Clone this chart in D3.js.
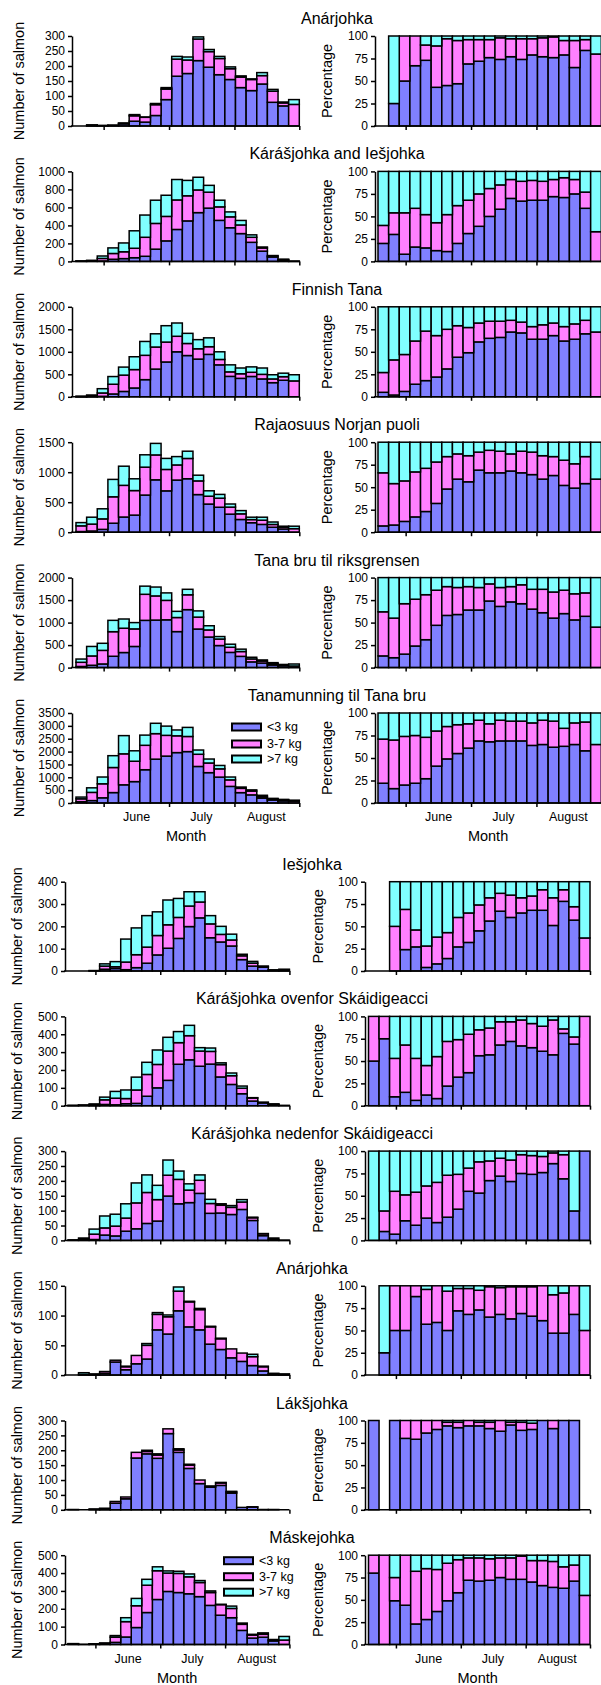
<!DOCTYPE html>
<html><head><meta charset="utf-8">
<script src="https://cdn.jsdelivr.net/npm/d3@7"></script>
<style>
body{margin:0;background:#fff}
svg{display:block}
text{font-family:"Liberation Sans",Arial,sans-serif;fill:#000}
</style>
</head><body><div id="chart"></div>
<script>
// ---------- categories / tick labels ----------
const slots = d3.range(21);                 // 5-day periods, mid-May .. end of August
const monthTickPos = [2.6, 8.75, 14.9, 21]; // month boundaries (in period units)
const monthNames = ["June", "July", "August"];
const monthLabelPos = [5.7, 11.8, 17.9];
const seriesNames = ["<3 kg", "3-7 kg", ">7 kg"];
const seriesColors = ["#8080ff", "#ff80ff", "#80ffff"];

// ---------- 1 Anárjohka ----------
const anar1Small = [0,1,1,2,7,16,13,35,88,166,175,218,196,171,155,128,118,140,79,67,0];
const anar1Mid   = [0,0,1,1,2,18,16,36,35,57,45,72,52,54,36,35,37,28,37,10,72];
const anar1Large = [0,3,0,0,1,4,1,4,5,9,10,7,7,7,6,4,2,10,6,3,16];
const anar1PSmall = [null,25,50,67,73,43,45,47,69,72,76,74,77,74,79,77,76,79,65,84,0];
const anar1PMid   = [null,0,50,33,17,46,52,48,27,24,20,24,20,23,18,21,23,16,30,12,80];
const anar1PLarge = [null,75,0,0,10,11,3,5,4,4,4,2,3,3,3,2,1,5,5,4,20];
// ---------- 2 Kárášjohka and Iešjohka ----------
const karIesSmall = [1,4,5,24,31,41,57,136,228,355,450,542,592,456,374,309,212,114,49,15,0];
const karIesMid   = [1,3,28,64,76,105,211,286,272,328,279,252,177,150,121,96,56,35,10,4,1];
const karIesLarge = [3,5,27,62,98,194,247,258,235,227,171,141,76,74,55,50,27,11,6,6,2];
const karIesPSmall = [20,30,8,16,15,12,11,20,31,39,50,58,70,67,68,68,72,71,75,59,0];
const karIesPMid   = [20,24,46,43,37,31,41,42,37,36,31,27,21,22,22,21,19,22,16,18,33];
const karIesPLarge = [60,46,46,41,48,57,48,38,32,25,19,15,9,11,10,11,9,7,9,23,67];
// ---------- 3 Finnish Tana ----------
const finSmall = [1,1,11,63,119,196,381,616,774,1000,917,838,943,710,454,410,452,397,314,368,0];
const finMid   = [3,15,74,216,363,409,541,490,442,345,268,229,170,120,100,102,93,102,83,79,353];
const finLarge = [11,24,95,171,178,285,308,294,364,295,225,203,197,170,156,128,120,141,93,78,137];
const finPSmall = [5,2,6,14,18,22,31,44,49,61,65,66,72,71,64,64,68,62,64,70,0];
const finPMid   = [22,39,41,48,55,46,44,35,28,21,19,18,13,12,14,16,14,16,17,15,72];
const finPLarge = [73,59,53,38,27,32,25,21,23,18,16,16,15,17,22,20,18,22,19,15,28];
// ---------- 4 Rajaosuus Norjan puoli ----------
const rajaSmall = [11,20,47,150,253,285,619,873,689,869,891,627,469,416,301,212,158,130,83,54,0];
const rajaMid   = [95,115,175,440,528,409,465,415,357,252,338,228,131,151,117,94,52,70,46,30,59];
const rajaLarge = [54,115,168,290,319,196,206,192,184,139,121,95,90,63,52,54,40,50,41,16,41];
const rajaPSmall = [7,8,12,17,23,32,48,59,56,69,66,66,68,66,64,59,63,52,49,54,0];
const rajaPMid   = [59,46,45,50,48,46,36,28,29,20,25,24,19,24,25,26,21,28,27,30,59];
const rajaPLarge = [34,46,43,33,29,22,16,13,15,11,9,10,13,10,11,15,16,20,24,16,41];
// ---------- 5 Tana bru til riksgrensen ----------
const bruSmall = [25,52,81,252,335,470,1050,1056,1062,800,1288,857,679,490,338,250,127,102,58,40,0];
const bruMid   = [93,207,302,546,540,390,579,537,432,313,330,265,158,145,114,107,66,44,32,18,36];
const bruLarge = [72,211,157,252,205,140,181,197,166,137,122,138,93,55,68,53,37,24,20,12,44];
const bruPSmall = [13,11,15,24,31,47,58,59,64,64,74,68,73,71,65,61,55,60,53,57,0];
const bruPMid   = [49,44,56,52,50,39,32,30,26,25,19,21,17,21,22,26,29,26,29,26,45];
const bruPLarge = [38,45,29,24,19,14,10,11,10,11,7,11,10,8,13,13,16,14,18,17,55];
// ---------- 6 Tanamunning til Tana bru ----------
const munSmall = [51,94,202,405,707,832,1294,1705,1824,1960,1999,1421,1180,1007,646,403,316,189,117,81,0];
const munMid   = [112,319,545,975,1205,792,950,992,807,653,588,474,376,321,253,167,148,60,43,45,72];
const munLarge = [67,177,263,460,708,406,396,403,359,227,353,165,154,132,111,50,46,51,20,14,38];
const munPSmall = [22,16,20,22,27,41,49,55,61,69,68,69,69,69,64,65,62,63,65,58,0];
const munPMid   = [49,54,54,53,46,39,36,32,27,23,20,23,22,22,25,27,29,20,24,32,65];
const munPLarge = [29,30,26,25,27,20,15,13,12,8,12,8,9,9,11,8,9,17,11,10,35];
// ---------- 7 Iešjohka ----------
const iesSmall = [0,0,0,8,11,6,15,35,72,102,146,199,238,149,130,112,51,22,17,3,0];
const iesMid   = [0,0,1,14,8,34,58,72,87,105,94,92,71,62,34,27,17,13,3,1,3];
const iesLarge = [0,0,1,10,23,103,120,141,106,111,85,64,46,37,36,26,7,8,2,1,5];
const iesPSmall = [null,null,0,24,27,4,8,14,27,32,45,56,67,60,65,68,68,51,78,57,0];
const iesPMid   = [null,null,50,45,19,24,30,29,33,33,29,26,20,25,17,16,23,31,13,15,37];
const iesPLarge = [null,null,50,31,54,72,62,57,40,35,26,18,13,15,18,16,9,18,9,28,63];
// ---------- 8 Kárášjohka ovenfor Skáidigeacci ----------
const ovenSmall = [1,3,1,7,5,11,13,53,100,142,232,257,221,233,161,119,67,26,16,7,0];
const ovenMid   = [1,1,4,26,37,29,75,122,131,164,121,135,85,71,69,49,31,17,1,1,2];
const ovenLarge = [0,0,5,15,38,48,72,68,81,77,62,58,19,19,10,15,12,2,3,2,0];
const ovenPSmall = [50,75,10,15,6,12,8,22,32,37,56,57,68,72,67,65,61,57,81,69,0];
const ovenPMid   = [50,25,43,53,47,33,47,50,42,43,29,30,26,22,29,27,28,39,5,8,100];
const ovenPLarge = [0,0,47,32,47,55,45,28,26,20,15,13,6,6,4,8,11,4,14,23,0];
// ---------- 9 Kárášjohka nedenfor Skáidigeacci ----------
const nedSmall = [0,1,3,18,15,31,39,57,65,149,123,127,158,91,92,87,104,67,16,3,1];
const nedMid   = [0,2,18,24,33,44,87,104,72,70,82,42,44,33,26,24,25,9,6,0,0];
const nedLarge = [2,5,17,40,40,48,67,59,48,51,28,21,18,14,5,6,8,2,1,5,0];
const nedPSmall = [0,10,7,22,17,25,20,26,35,55,53,67,72,66,75,74,76,86,69,33,100];
const nedPMid   = [0,23,48,29,37,36,45,47,39,26,35,22,20,24,21,21,18,12,27,0,0];
const nedPLarge = [100,67,45,49,46,39,35,27,26,19,12,11,8,10,4,5,6,2,4,67,0];
// ---------- 10 Anárjohka ----------
const anar2Small = [0,1,1,3,22,9,19,27,76,69,108,81,76,52,43,29,23,16,7,2,0];
const anar2Mid   = [0,0,1,3,3,5,14,23,26,29,33,42,34,29,18,15,14,15,7,1,1];
const anar2Large = [0,3,0,0,0,1,0,3,3,3,7,1,2,1,1,0,0,4,1,0,1];
const anar2PSmall = [null,25,50,50,88,57,59,50,72,68,73,65,68,63,69,66,61,47,47,68,0];
const anar2PMid   = [null,0,50,50,12,39,41,44,25,29,22,34,30,36,30,33,39,43,45,32,50];
const anar2PLarge = [null,75,0,0,0,4,0,6,3,3,5,1,2,1,1,1,0,10,8,0,50];
// ---------- 11 Lákšjohka ----------
const lakSmall = [1,0,3,4,22,37,174,188,173,256,193,139,88,76,82,56,8,9,1,1,0];
const lakMid   = [0,0,0,1,6,6,19,8,11,16,8,11,12,2,8,4,0,1,0,0,0];
const lakLarge = [0,0,0,0,0,0,0,4,4,0,4,3,0,2,2,2,0,0,0,0,0];
const lakPSmall = [100,null,100,80,79,86,90,94,92,94,94,91,88,95,89,90,100,91,100,100,null];
const lakPMid   = [0,null,0,20,21,14,10,4,6,6,4,7,12,3,9,7,0,9,0,0,null];
const lakPLarge = [0,null,0,0,0,0,0,2,2,0,2,2,0,2,2,3,0,0,0,0,null];
// ---------- 12 Máskejohka ----------
const maskSmall = [4,0,2,4,12,42,95,179,252,297,291,284,268,219,164,150,79,36,41,20,0];
const maskMid   = [1,1,1,5,29,86,122,153,161,103,107,95,79,72,59,52,34,17,16,5,25];
const maskLarge = [0,0,1,0,9,22,41,33,22,12,12,16,11,9,2,13,7,4,8,3,20];
const maskPSmall = [80,0,49,44,23,28,37,49,58,72,71,72,75,73,73,70,66,64,63,71,0];
const maskPMid   = [20,100,26,56,59,57,47,42,37,25,26,24,22,24,26,24,28,29,24,18,55];
const maskPLarge = [0,0,25,0,18,15,16,9,5,3,3,4,3,3,1,6,6,7,13,11,45];

const titles = ["Anárjohka","Kárášjohka and Iešjohka","Finnish Tana","Rajaosuus Norjan puoli",
  "Tana bru til riksgrensen","Tanamunning til Tana bru","Iešjohka","Kárášjohka ovenfor Skáidigeacci",
  "Kárášjohka nedenfor Skáidigeacci","Anárjohka","Lákšjohka","Máskejohka"];
const countMax = [300,1000,2000,1500,2000,3500,400,500,300,150,300,500];
const countStep = [50,200,500,500,500,500,100,100,50,50,50,100];

const panels = [
  [anar1Small,anar1Mid,anar1Large,anar1PSmall,anar1PMid,anar1PLarge],
  [karIesSmall,karIesMid,karIesLarge,karIesPSmall,karIesPMid,karIesPLarge],
  [finSmall,finMid,finLarge,finPSmall,finPMid,finPLarge],
  [rajaSmall,rajaMid,rajaLarge,rajaPSmall,rajaPMid,rajaPLarge],
  [bruSmall,bruMid,bruLarge,bruPSmall,bruPMid,bruPLarge],
  [munSmall,munMid,munLarge,munPSmall,munPMid,munPLarge],
  [iesSmall,iesMid,iesLarge,iesPSmall,iesPMid,iesPLarge],
  [ovenSmall,ovenMid,ovenLarge,ovenPSmall,ovenPMid,ovenPLarge],
  [nedSmall,nedMid,nedLarge,nedPSmall,nedPMid,nedPLarge],
  [anar2Small,anar2Mid,anar2Large,anar2PSmall,anar2PMid,anar2PLarge],
  [lakSmall,lakMid,lakLarge,lakPSmall,lakPMid,lakPLarge],
  [maskSmall,maskMid,maskLarge,maskPSmall,maskPMid,maskPLarge]
].map((a, i) => ({title: titles[i], max: countMax[i], step: countStep[i],
  c: [a[0], a[1], a[2]], p: [a[3], a[4], a[5]]}));

// ---------- layout ----------
const W = 601, H = 1685;
const sections = [
  {lx0:76, lx1:299.3, lAxis:72, rx0:378, rx1:601.3, rAxis:375, top0:36, dy:135.4, h:90,
   titleX:337, ylabX:19, pctLabX:327, legX:232, legDy:[14,31,46]},
  {lx0:68, lx1:289.4, lAxis:65, rx0:368.5, rx1:590, rAxis:365, top0:881.7, dy:134.7, h:89.3,
   titleX:312, ylabX:17, pctLabX:317.5, legX:224, legDy:[5.5,21.5,37]}
];

const svg = d3.select("#chart").append("svg").attr("width", W).attr("height", H)
  .attr("viewBox", `0 0 ${W} ${H}`);
svg.append("rect").attr("width", W).attr("height", H).attr("fill", "#fff");

const stack = d3.stack().keys([0,1,2]).value((d, k) => d[k] == null ? 0 : d[k]);

function drawChart(g, arrs, x0, x1, axisX, top, h, yMax, yTicks, isLast, labelX, labelText) {
  const x = d3.scaleLinear().domain([0, 21]).range([x0, x1]);
  const y = d3.scaleLinear().domain([0, yMax]).range([top + h, top]);
  const rows = slots.map(i => {
    const r = [arrs[0][i], arrs[1][i], arrs[2][i]];
    r.present = arrs[0][i] != null && (arrs[0][i] + arrs[1][i] + arrs[2][i]) > 0;
    r.i = i;
    return r;
  });
  const series = stack(rows);
  series.forEach((s, k) => {
    g.append("g").selectAll("rect")
      .data(s.filter(d => d.data.present && d[1] - d[0] > 0))
      .join("rect")
      .attr("x", d => x(d.data.i))
      .attr("width", d => x(d.data.i + 1) - x(d.data.i))
      .attr("y", d => y(d[1]))
      .attr("height", d => Math.max(0, y(d[0]) - y(d[1])))
      .attr("fill", seriesColors[k])
      .attr("stroke", "#000").attr("stroke-width", 1.5);
  });
  // y axis
  const ya = g.append("g").attr("transform", `translate(${axisX},0)`)
    .call(d3.axisLeft(y).tickValues(yTicks).tickFormat(d3.format("d"))
      .tickSize(4).tickSizeOuter(0).tickPadding(3));
  ya.select(".domain").attr("stroke-width", 1.5);
  ya.selectAll(".tick line").attr("stroke-width", 1.5);
  ya.selectAll(".tick text").attr("font-size", 12).attr("font-family", '"Liberation Sans",Arial,sans-serif');
  // x axis
  const xa = g.append("g").attr("transform", `translate(0,${top + h})`)
    .call(d3.axisBottom(x).tickValues(monthTickPos).tickSize(4).tickSizeOuter(0).tickFormat(""));
  xa.select(".domain").remove();
  xa.selectAll(".tick line").attr("stroke-width", 1.5);
  g.append("line").attr("x1", axisX - 1).attr("x2", x1).attr("y1", top + h).attr("y2", top + h)
    .attr("stroke", "#000").attr("stroke-width", 1.5);
  // axis title
  g.append("text").attr("transform", `translate(${labelX},${top + h / 2}) rotate(-90)`)
    .attr("text-anchor", "middle").attr("dominant-baseline", "central")
    .attr("font-size", 14.5).text(labelText);
  if (isLast) {
    g.append("g").selectAll("text").data(monthNames).join("text")
      .attr("x", (d, i) => x(monthLabelPos[i])).attr("y", top + h + 18)
      .attr("text-anchor", "middle").attr("font-size", 12.5).text(d => d);
    g.append("text").attr("x", x(10.35)).attr("y", top + h + 38)
      .attr("text-anchor", "middle").attr("font-size", 14.5).text("Month");
  }
  return {x, y};
}

panels.forEach((p, idx) => {
  const secIdx = idx < 6 ? 0 : 1;
  const r = idx % 6;
  const s = sections[secIdx];
  const top = s.top0 + s.dy * r;
  const g = svg.append("g");
  const isLast = r === 5;
  g.append("text").attr("x", s.titleX).attr("y", top - 12).attr("text-anchor", "middle")
    .attr("font-size", 16).text(p.title);
  drawChart(g, p.c, s.lx0, s.lx1, s.lAxis, top, s.h, p.max, d3.range(0, p.max + 1, p.step),
    isLast, s.ylabX, "Number of salmon");
  drawChart(g, p.p, s.rx0, s.rx1, s.rAxis, top, s.h, 100, [0,25,50,75,100],
    isLast, s.pctLabX, "Percentage");
  if (isLast) {
    const lg = g.append("g");
    seriesNames.forEach((name, k) => {
      const cy = top + s.legDy[k];
      lg.append("rect").attr("x", s.legX).attr("y", cy - 3.5).attr("width", 29).attr("height", 7)
        .attr("fill", seriesColors[k]).attr("stroke", "#000").attr("stroke-width", 2);
      lg.append("text").attr("x", s.legX + 35).attr("y", cy).attr("dominant-baseline", "central")
        .attr("font-size", 12.5).text(name);
    });
  }
});
</script>
</body></html>
